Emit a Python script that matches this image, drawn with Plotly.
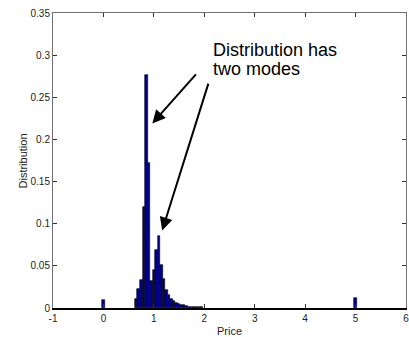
import plotly.graph_objects as go

# ---- data ----
price_bins = [0.0,
              0.65, 0.70, 0.75, 0.80, 0.85, 0.90, 0.95, 1.00, 1.05, 1.10,
              1.15, 1.20, 1.25, 1.30, 1.35, 1.40, 1.45, 1.50, 1.55, 1.60,
              1.65, 1.70, 1.75, 1.80, 1.85, 1.90, 1.95,
              5.0]
distribution = [0.009,
                0.011, 0.022, 0.033, 0.120, 0.277, 0.172, 0.032, 0.045, 0.069, 0.085,
                0.051, 0.035, 0.021, 0.015, 0.011, 0.008, 0.006, 0.005, 0.004, 0.003,
                0.002, 0.0015, 0.0012, 0.001, 0.001, 0.0008, 0.0006,
                0.012]
bin_width = 0.05

x_ticks = [-1, 0, 1, 2, 3, 4, 5, 6]
x_tick_labels = ["-1", "0", "1", "2", "3", "4", "5", "6"]
y_ticks = [0, 0.05, 0.1, 0.15, 0.2, 0.25, 0.3, 0.35]
y_tick_labels = ["0", "0.05", "0.1", "0.15", "0.2", "0.25", "0.3", "0.35"]

x_title = "Price"
y_title = "Distribution"
note_line1 = "Distribution has"
note_line2 = "two modes"
# arrow (head x, head y, tail x, tail y) in data units
arrows = [(0.97, 0.219, 1.86, 0.279),
          (1.165, 0.092, 2.09, 0.268)]

FONT = "Liberation Sans, Arial, sans-serif"

fig = go.Figure()
fig.add_trace(go.Bar(
    x=price_bins, y=distribution, width=bin_width,
    marker=dict(color="rgb(0,0,143)", line=dict(color="black", width=0.6)),
    showlegend=False,
))

tick_common = dict(
    showgrid=False, zeroline=False, showline=True, automargin=False,
    ticks="inside", ticklen=4, tickwidth=1, tickcolor="#333",
)
tickfont = dict(family=FONT, size=10, color="#222")

fig.update_layout(
    width=409, height=337,
    margin=dict(l=53, r=3, t=13, b=29),
    paper_bgcolor="white", plot_bgcolor="white",
    bargap=0,
    xaxis=dict(range=[-1, 6], tickvals=x_ticks, ticktext=x_tick_labels,
               linecolor="black", linewidth=2, mirror=False, tickfont=tickfont,
               ticklabeloverflow="allow",
               title=dict(text=x_title, font=dict(family=FONT, size=11, color="#222")),
               **tick_common),
    xaxis2=dict(range=[-1, 6], tickvals=x_ticks, overlaying="x", side="top",
                showticklabels=False, linecolor="#707070", linewidth=1,
                **tick_common),
    yaxis=dict(range=[0, 0.35], tickvals=y_ticks, ticktext=y_tick_labels,
               linecolor="#707070", linewidth=1, mirror="ticks", tickfont=tickfont,
               ticklabeloverflow="allow",
               **tick_common),
)
# invisible trace to activate the top axis
fig.add_trace(go.Scatter(x=[-1], y=[0], xaxis="x2", mode="markers",
                         marker=dict(opacity=0), showlegend=False, hoverinfo="skip"))

fig.add_annotation(x=-0.085, y=0.5, xref="paper", yref="paper", text=y_title,
                   textangle=-90, showarrow=False, xanchor="center", yanchor="middle",
                   font=dict(family=FONT, size=11, color="#222"))

for hx, hy, tx, ty in arrows:
    fig.add_annotation(x=hx, y=hy, ax=tx, ay=ty, xref="x", yref="y",
                       axref="x", ayref="y", text="", showarrow=True,
                       arrowhead=2, arrowsize=1.3, arrowwidth=2, arrowcolor="black")

fig.add_annotation(x=2.13, y=0.306, xref="x", yref="y", text=note_line1,
                   showarrow=False, xanchor="left", yanchor="middle",
                   font=dict(family=FONT, size=18, color="black"))
fig.add_annotation(x=2.13, y=0.2835, xref="x", yref="y", text=note_line2,
                   showarrow=False, xanchor="left", yanchor="middle",
                   font=dict(family=FONT, size=18, color="black"))

fig.write_html("out.html", config={"displayModeBar": False},
               post_script="document.body.style.margin='0';document.body.style.overflow='hidden';")
